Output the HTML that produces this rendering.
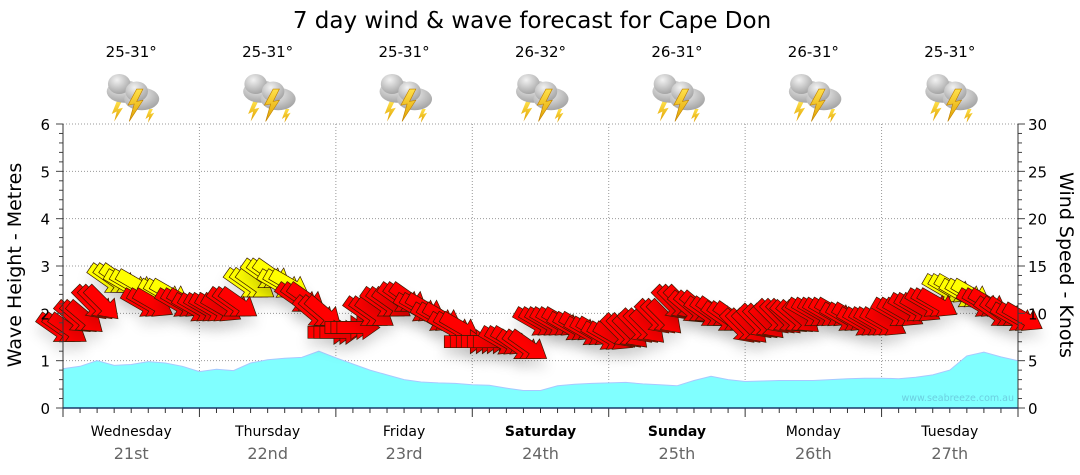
<!DOCTYPE html>
<html><head><meta charset="utf-8"><style>
body{margin:0;background:#fff;width:1080px;height:475px;overflow:hidden;font-family:"DejaVu Sans","Liberation Sans",sans-serif}
svg{display:block}
</style></head><body>
<svg id="chart" width="1080" height="475" viewBox="0 0 1080 475" font-family="DejaVu Sans, Liberation Sans, sans-serif">
<defs>
<filter id="sh" x="-50%" y="-50%" width="200%" height="250%"><feDropShadow dx="0" dy="9" stdDeviation="6" flood-color="#000" flood-opacity="0.12"/></filter>
<radialGradient id="cg" cx="0.4" cy="0.3" r="0.8"><stop offset="0" stop-color="#f2f2f2"/><stop offset="1" stop-color="#9a9a9a"/></radialGradient>
<linearGradient id="bg" x1="0" y1="0" x2="0" y2="1"><stop offset="0" stop-color="#ffe14a"/><stop offset="1" stop-color="#e0a000"/></linearGradient>
<g id="icon"><path d="M-14,6 l-4,10 l4,-2 l-2,8 l7,-11 l-4,1 l3,-6z" fill="url(#bg)"/><ellipse cx="-8" cy="-2" rx="14" ry="9" fill="url(#cg)"/><ellipse cx="-12" cy="-8" rx="9" ry="8" fill="url(#cg)"/><ellipse cx="6" cy="4" rx="14" ry="9" fill="url(#cg)"/><ellipse cx="2" cy="-2" rx="9" ry="8" fill="url(#cg)"/><path d="M2,-4 l-7,13 l5,-1 l-4,14 l11,-17 l-5,1 l5,-10z" fill="url(#bg)" stroke="#c08000" stroke-width="0.5"/><path d="M12,12 l-3,8 l3,-2 l-1,5 l5,-8 l-3,1 l2,-4z" fill="url(#bg)"/></g>
</defs>
<text x="532" y="28" font-size="23" text-anchor="middle" fill="#000">7 day wind &amp; wave forecast for Cape Don</text>
<g id="grid"></g>
<g id="wave"></g>
<g id="wind"></g>
<g id="axes"></g>
<text x="1014" y="401" font-size="9.5" text-anchor="end" fill="#6ccfe0">www.seabreeze.com.au</text>
<text transform="translate(21,265) rotate(-90)" font-size="19" text-anchor="middle">Wave Height - Metres</text>
<text transform="translate(1060,265) rotate(90)" font-size="19" text-anchor="middle">Wind Speed - Knots</text>
</svg>
<script>
const days=["Wednesday","Thursday","Friday","Saturday","Sunday","Monday","Tuesday"];
const dates=["21st","22nd","23rd","24th","25th","26th","27th"];
const temps=["25-31°","25-31°","25-31°","26-32°","26-31°","26-31°","25-31°"];
const boldDays=[false,false,false,true,true,false,false];
const waveTicks=[0,1,2,3,4,5,6];
const windTicks=[0,5,10,15,20,25,30];
const waveHeights=[0.83,0.88,1.0,0.9,0.92,0.98,0.95,0.88,0.77,0.82,0.79,0.95,1.02,1.05,1.07,1.2,1.06,0.93,0.8,0.7,0.6,0.55,0.53,0.52,0.49,0.48,0.42,0.37,0.37,0.47,0.5,0.52,0.53,0.54,0.51,0.49,0.47,0.58,0.67,0.6,0.56,0.57,0.58,0.58,0.58,0.6,0.62,0.63,0.63,0.62,0.65,0.7,0.8,1.1,1.18,1.08,1.0];
const windSpeeds=[8.3,9.5,11,13.5,13,11,12,11,10.5,10.5,11,13,14,13,11.5,10,8,8.5,10,11,11.5,10.5,9.5,8.5,7,7,7,6.5,9,9,8.5,8,7.5,8,8.5,9.5,11,10.5,10,9.5,8.5,9,9.5,9.5,10,10,9.5,9,9,10,10.5,11,12.5,12,11,10,9.5];
const windDirs=[35,40,45,35,30,30,30,30,30,30,35,35,35,30,35,40,0,0,35,35,35,30,30,30,0,0,30,35,30,30,30,30,30,45,45,45,45,40,35,35,45,45,45,40,30,30,30,30,30,30,30,30,30,30,30,35,30];
const windYellow=[0,0,0,1,1,0,1,0,0,0,0,1,1,1,0,0,0,0,0,0,0,0,0,0,0,0,0,0,0,0,0,0,0,0,0,0,0,0,0,0,0,0,0,0,0,0,0,0,0,0,0,0,1,1,0,0,0];

const NS="http://www.w3.org/2000/svg";
const X0=63,X1=1018,Y0=408,Y1=124;
const dayW=(X1-X0)/7;
const xT=i=>X0+i*(X1-X0)/56;
const yW=v=>Y0-v*(Y0-Y1)/6;
const yK=v=>Y0-v*(Y0-Y1)/30;
function mk(tag,attrs,parent){const e=document.createElementNS(NS,tag);for(const k in attrs)e.setAttribute(k,attrs[k]);parent.appendChild(e);return e;}
const grid=document.getElementById('grid'),axes=document.getElementById('axes'),wave=document.getElementById('wave'),wind=document.getElementById('wind'),svg=document.getElementById('chart');

waveTicks.forEach(t=>{
  if(t>0){const g=mk('line',{x1:X0,x2:X1,y1:yW(t),y2:yW(t),stroke:'#999','stroke-dasharray':'1,2','stroke-width':1},grid);
  
  }
  const l=mk('text',{x:50,y:yW(t)+6,'font-size':15,'text-anchor':'end',fill:'#000'},axes);l.textContent=t;
  
  
});
for(let m=0;m<=30;m++){const y=Y0-m*(Y0-Y1)/30;mk('line',{x1:X0-(m%5?4:7),x2:X0,y1:y,y2:y,stroke:'#444'},axes);mk('line',{x1:X1,x2:X1+(m%5?4:7),y1:y,y2:y,stroke:'#444'},axes);}
windTicks.forEach(t=>{const l=mk('text',{x:1028,y:yK(t)+6,'font-size':15,fill:'#000'},axes);l.textContent=t;
  
  });
for(let d=1;d<7;d++){const g=mk('line',{x1:X0+d*dayW,x2:X0+d*dayW,y1:Y1,y2:Y0,stroke:'#999','stroke-dasharray':'1,2'},grid);
  
  }
for(let i=0;i<=56;i++){mk('line',{x1:xT(i),x2:xT(i),y1:Y0,y2:Y0+(i%8?5:9),stroke:'#333'},axes);}
mk('line',{x1:X0,x2:X0,y1:Y1,y2:Y0,stroke:'#333'},axes);
mk('line',{x1:X1,x2:X1,y1:Y1,y2:Y0,stroke:'#333'},axes);
mk('line',{x1:X0,x2:X1,y1:Y0,y2:Y0,stroke:'#1a3a6a','stroke-width':1.5},axes);

let d='M'+X0+','+Y0;waveHeights.forEach((v,i)=>d+=' L'+xT(i).toFixed(1)+','+yW(v).toFixed(1));d+=' L'+X1+','+Y0+'Z';
const wa=mk('path',{d:d,fill:'#80ffff',stroke:'#a8c8ff','stroke-width':1},wave);



const order=[];windSpeeds.forEach((v,i)=>{if(windYellow[i])order.push(i);});windSpeeds.forEach((v,i)=>{if(!windYellow[i])order.push(i);});
const stack=[-6,0,6];
order.forEach(i=>{
  const g=mk('g',{filter:'url(#sh)'},wind);
  
  
  stack.forEach(o=>{
    mk('path',{d:'M-22,-6 L4,-6 L4,-12 L21,0 L4,12 L4,6 L-22,6 Z',fill:windYellow[i]?'#ffff00':'#ff0000',stroke:'#3a1a00','stroke-width':0.7,
      transform:'translate('+(xT(i)+o).toFixed(1)+','+yK(windSpeeds[i]).toFixed(1)+') rotate('+windDirs[i]+')'},g);
  });
});

days.forEach((n,k)=>{
  const cx=X0+(k+0.5)*dayW;
  const t=mk('text',{x:cx,y:57,'font-size':15,'text-anchor':'middle'},svg);t.textContent=temps[k];
  
  
  const ic=mk('use',{href:'#icon',transform:'translate('+(cx+3)+',94) scale(1.25)'},svg);
  
  
  const l=mk('text',{x:cx,y:436,'font-size':14,'text-anchor':'middle','font-weight':boldDays[k]?'bold':'normal'},svg);l.textContent=n;
  
  
  const dt=mk('text',{x:cx,y:459,'font-size':16,'text-anchor':'middle',fill:'#666'},svg);dt.textContent=dates[k];
  
  
});
</script>
</body></html>
